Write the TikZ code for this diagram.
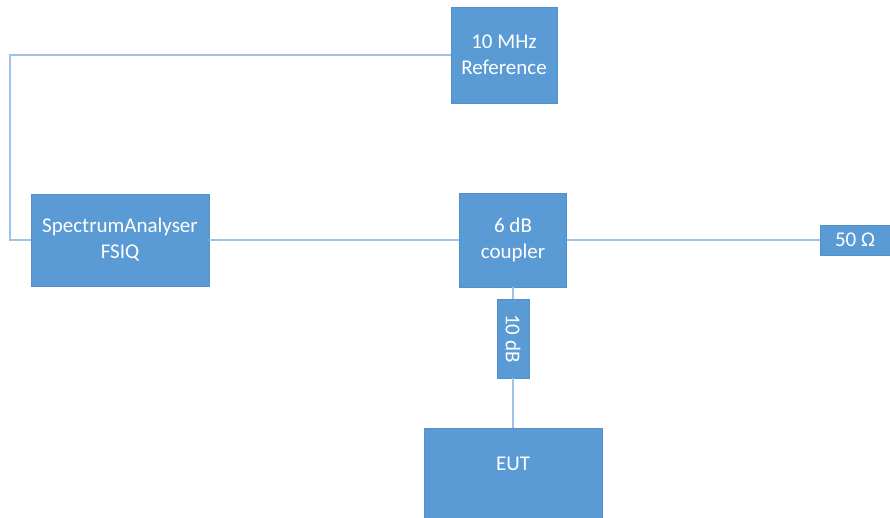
\documentclass[tikz,border=0pt]{standalone}
\usepackage{fontspec}
\setmainfont{Carlito}
\definecolor{boxblue}{HTML}{5B9BD5}
\definecolor{boxedge}{HTML}{5490CB}
\definecolor{wirec}{HTML}{9DC3E6}
\begin{document}
\begin{tikzpicture}[x=1pt,y=-1pt,
  blk/.style={rectangle,fill=boxblue,draw=boxedge,line width=0.6pt,text=white,
    align=center,font=\fontsize{21}{26}\selectfont,inner sep=0pt},
  wire/.style={draw=wirec,line width=1.1pt}]
\useasboundingbox (0,0) rectangle (890,517);
\node[blk,minimum width=106pt,minimum height=96pt] (ref) at (504,55) {10 MHz\\Reference};
\node[blk,minimum width=178pt,minimum height=92pt] (sa) at (120,240) {SpectrumAnalyser\\FSIQ};
\node[blk,minimum width=107pt,minimum height=94pt] (cpl) at (513,240) {6 dB\\coupler};
\node[blk,minimum width=70pt,minimum height=30pt] (ohm) at (855,240) {50 Ω};
\node[blk,rotate=-90,minimum width=79pt,minimum height=32pt] (att) at (513,338.5) {10 dB};
\node[blk,minimum width=178pt,minimum height=102pt,text depth=31pt] (eut) at (513,479) {EUT};
\coordinate (corner) at (10,240);
\draw[wire] (ref.west) -| (corner) -- (sa.west);
\draw[wire] (sa.east) -- (cpl.west);
\draw[wire] (cpl.east) -- (ohm.west);
\draw[wire] (cpl.south) -- (att);
\draw[wire] (att) -- (eut.north);
\end{tikzpicture}
\end{document}
